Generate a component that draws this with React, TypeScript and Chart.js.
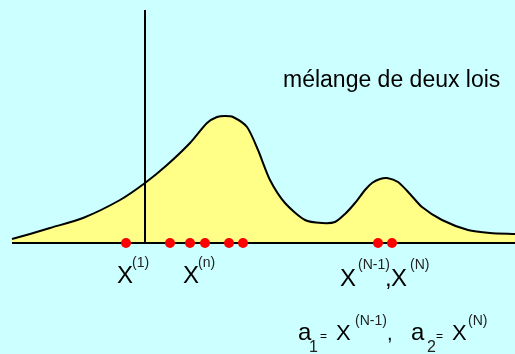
import React, { useEffect, useRef } from "react";
import { Chart, registerables } from "chart.js";

Chart.register(...registerables);

// Mixture density curve (x in horizontal units, y = density in arbitrary units)
const curveX = [12, 30, 50, 83, 120, 145, 167, 190, 207, 217, 225, 233, 247, 258, 270, 285, 305, 322, 335, 345, 355, 365, 372, 380, 387, 398, 410, 422, 442, 468, 490, 515];
const curveY = [4, 9, 15, 25, 43, 60, 78, 100, 120, 126, 127, 126, 116, 93, 63, 40, 23, 20, 21, 29, 40, 53, 60, 64, 65, 61, 49, 36, 23, 13, 10, 9];

// Ordered sample X(1) ... X(N)
const sampleX = [126, 170, 190, 205, 229, 243, 378, 392];

// Axis extent and threshold line
const axisRange = [12, 515];
const thresholdX = 145;
const thresholdTop = 233;

const title = "mélange de deux lois";

const FONT = '"Liberation Sans", Arial, sans-serif';

export default function App() {
  const ref = useRef<HTMLCanvasElement | null>(null);

  useEffect(() => {
    document.body.style.margin = "0";
    const canvas = ref.current!;
    const bgPlugin = {
      id: "bg",
      beforeDraw(chart: any) {
        const c = chart.ctx;
        c.save();
        c.fillStyle = "#CCFFFF";
        c.fillRect(0, 0, chart.width, chart.height);
        c.restore();
      },
    };
    const textPlugin = {
      id: "texts",
      afterDraw(chart: any) {
        const c = chart.ctx;
        const xs = chart.scales.x;
        const ys = chart.scales.y;
        const px = (v: number) => xs.getPixelForValue(v);
        const py = (v: number) => ys.getPixelForValue(v);
        const t = (s: string, x: number, y: number, size: number, color = "#000") => {
          c.font = `${size}px ${FONT}`;
          c.fillStyle = color;
          c.textBaseline = "alphabetic";
          c.textAlign = "left";
          c.fillText(s, px(x), py(y));
        };
        c.save();
        t(title, 283, 243 - 87, 23);
        // X(1), X(n)
        t("X", 117, 243 - 283, 24);
        t("(1)", 132, 243 - 267, 14, "#222");
        t("X", 183, 243 - 283, 24);
        t("(n)", 198, 243 - 267, 14, "#222");
        // X(N-1), X(N)
        t("X", 340, 243 - 286, 24);
        t("(N-1)", 358, 243 - 269, 14, "#222");
        t(",", 385, 243 - 286, 24);
        t("X", 391, 243 - 286, 24);
        t("(N)", 410, 243 - 269, 14, "#222");
        // a1 = X(N-1), a2 = X(N)
        t("a", 298, 243 - 340, 24);
        t("1", 309, 243 - 352, 16, "#222");
        t("=", 320, 243 - 340, 12);
        t("X", 336, 243 - 340, 22);
        t("(N-1)", 355, 243 - 325, 14, "#222");
        t(",", 387, 243 - 340, 20);
        t("a", 411, 243 - 340, 24);
        t("2", 427, 243 - 352, 16, "#222");
        t("=", 436, 243 - 340, 12);
        t("X", 452, 243 - 340, 22);
        t("(N)", 468, 243 - 325, 14, "#222");
        c.restore();
      },
    };

    const chart = new Chart(canvas, {
      type: "scatter",
      data: {
        datasets: [
          {
            label: "sample",
            data: sampleX.map((x) => ({ x, y: 0 })),
            pointRadius: 5,
            pointBackgroundColor: "#FF0000",
            pointBorderWidth: 0,
            borderColor: "#FF0000",
            showLine: false,
            order: 0,
          },
          {
            label: "threshold",
            data: [
              { x: thresholdX, y: 0 },
              { x: thresholdX, y: thresholdTop },
            ],
            showLine: true,
            borderColor: "#000",
            borderWidth: 2,
            pointRadius: 0,
            order: 1,
          },
          {
            label: "axis",
            data: axisRange.map((x) => ({ x, y: 0 })),
            showLine: true,
            borderColor: "#000",
            borderWidth: 2,
            pointRadius: 0,
            order: 2,
          },
          {
            label: "mixture",
            data: curveX.map((x, i) => ({ x, y: curveY[i] })),
            showLine: true,
            borderColor: "#000",
            borderWidth: 2,
            backgroundColor: "#FFFF88",
            fill: "origin",
            tension: 0.25,
            pointRadius: 0,
            order: 3,
          },
        ],
      },
      options: {
        animation: false,
        responsive: false,
        maintainAspectRatio: false,
        devicePixelRatio: 1,
        layout: { padding: 0, autoPadding: false },
        plugins: { legend: { display: false }, tooltip: { enabled: false }, title: { display: false } },
        scales: {
          x: { type: "linear", min: 0, max: 515, display: false },
          y: { type: "linear", min: -111, max: 243, display: false },
        },
      },
      plugins: [bgPlugin, textPlugin],
    });
    return () => chart.destroy();
  }, []);

  return <canvas ref={ref} width={515} height={354} style={{ display: "block" }} />;
}
